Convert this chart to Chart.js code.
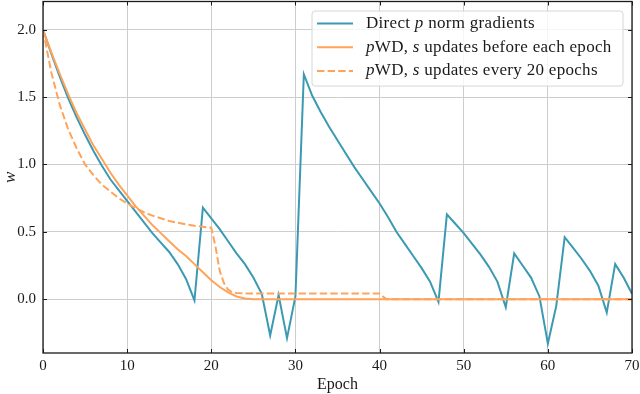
<!DOCTYPE html>
<html>
<head>
<meta charset="utf-8">
<script src="https://cdn.jsdelivr.net/npm/chart.js@4.4.1/dist/chart.umd.min.js"></script>
<style>
  html, body { margin: 0; padding: 0; background: #fff; }
</style>
</head>
<body>
<canvas id="chart" width="640" height="394"></canvas>
<script>
// epochs for the per-epoch series
const epochs = [0, 1, 2, 3, 4, 5, 6, 7, 8, 9, 10, 11, 12, 13, 14, 15, 16, 17, 18, 19,
  20, 21, 22, 23, 24, 25, 26, 27, 28, 29, 30, 31, 32, 33, 34, 35, 36, 37, 38, 39,
  40, 41, 42, 43, 44, 45, 46, 47, 48, 49, 50, 51, 52, 53, 54, 55, 56, 57, 58, 59,
  60, 61, 62, 63, 64, 65, 66, 67, 68, 69, 70];

// Direct p norm gradients
const directW = [2.00, 1.82, 1.65, 1.49, 1.35, 1.22, 1.10, 0.99, 0.89, 0.81,
  0.73, 0.65, 0.57, 0.49, 0.42, 0.35, 0.26, 0.15, -0.01, 0.68,
  0.60, 0.52, 0.43, 0.34, 0.26, 0.16, 0.04, -0.27, 0.03, -0.29,
  0.02, 1.67, 1.51, 1.39, 1.28, 1.18, 1.08, 0.98, 0.89, 0.80,
  0.71, 0.61, 0.50, 0.41, 0.32, 0.23, 0.13, -0.02, 0.63, 0.56,
  0.49, 0.41, 0.33, 0.24, 0.13, -0.06, 0.34, 0.25, 0.16, 0.02,
  -0.33, -0.05, 0.46, 0.38, 0.30, 0.21, 0.10, -0.10, 0.26, 0.16,
  0.04];

// pWD, s updates before each epoch
const pwdBefore = [2.00, 1.83, 1.67, 1.52, 1.38, 1.26, 1.14, 1.04, 0.94, 0.85,
  0.77, 0.69, 0.62, 0.55, 0.49, 0.43, 0.37, 0.32, 0.26, 0.20,
  0.14, 0.09, 0.05, 0.02, 0.005, 0, 0, 0, 0, 0,
  0, 0, 0, 0, 0, 0, 0, 0, 0, 0,
  0, 0, 0, 0, 0, 0, 0, 0, 0, 0,
  0, 0, 0, 0, 0, 0, 0, 0, 0, 0,
  0, 0, 0, 0, 0, 0, 0, 0, 0, 0,
  0];

// pWD, s updates every 20 epochs (sampled finer around the jumps)
const pwdEveryEpochs = [0, 1, 2, 3, 4, 5, 6, 7, 8, 9, 10, 11, 12, 13, 14, 15, 16, 17, 18, 19,
  20, 20.5, 21, 21.5, 22, 22.5, 23, 24, 30, 40, 40.4, 40.8, 50, 60, 70];
const pwdEvery = [2.00, 1.68, 1.44, 1.26, 1.12, 1.00, 0.92, 0.85, 0.80, 0.75,
  0.71, 0.675, 0.645, 0.62, 0.60, 0.58, 0.567, 0.555, 0.545, 0.537,
  0.53, 0.39, 0.21, 0.12, 0.07, 0.05, 0.045, 0.042, 0.042, 0.042,
  0.02, 0, 0, 0, 0];

const xTicks = [0, 10, 20, 30, 40, 50, 60, 70];
const yTicks = [0, 0.5, 1.0, 1.5, 2.0];

const BLUE = '#3b9ab2';
const ORANGE = '#ffa35a';
const FONT = "'Liberation Serif', 'DejaVu Serif', serif";

const toPoints = (xs, ys) => xs.map((x, i) => ({ x, y: ys[i] }));

// legend rows: [text, italic]
const legendRows = [
  { color: BLUE, dash: [], parts: [['Direct ', false], ['p', true], [' norm gradients', false]] },
  { color: ORANGE, dash: [], parts: [['p', true], ['WD, ', false], ['s', true], [' updates before each epoch', false]] },
  { color: ORANGE, dash: [7.4, 3.2], parts: [['p', true], ['WD, ', false], ['s', true], [' updates every 20 epochs', false]] },
];

const frame = {
  id: 'frame',
  afterDatasetsDraw(chart) {
    const { ctx, chartArea: a, scales: { x, y } } = chart;
    ctx.save();
    ctx.strokeStyle = '#1a1a1a';
    ctx.lineWidth = 1;
    const seg = (x1, y1, x2, y2) => { ctx.beginPath(); ctx.moveTo(x1, y1); ctx.lineTo(x2, y2); ctx.stroke(); };
    x.ticks.forEach(t => {
      const px = Math.round(x.getPixelForValue(t.value)) + 0.5;
      seg(px, a.bottom, px, a.bottom - 4);
      seg(px, a.top, px, a.top + 4);
    });
    y.ticks.forEach(t => {
      const py = Math.round(y.getPixelForValue(t.value)) + 0.5;
      seg(a.left, py, a.left + 4, py);
      seg(a.right, py, a.right - 4, py);
    });
    ctx.lineWidth = 1.3;
    ctx.strokeRect(a.left, a.top, a.right - a.left, a.bottom - a.top);
    ctx.restore();
  }
};

const legendBox = {
  id: 'legendBox',
  afterDraw(chart) {
    const { ctx, chartArea: a } = chart;
    const w = 311, h = 75;
    const x0 = a.right - 9 - w, y0 = a.top + 9.5;
    ctx.save();
    ctx.beginPath();
    ctx.roundRect(x0, y0, w, h, 3);
    ctx.fillStyle = 'rgba(255,255,255,0.8)';
    ctx.fill();
    ctx.strokeStyle = '#d6d6d6';
    ctx.lineWidth = 1;
    ctx.stroke();
    legendRows.forEach((row, i) => {
      const ry = y0 + 12.5 + i * 23.7;
      ctx.beginPath();
      ctx.setLineDash(row.dash);
      ctx.strokeStyle = row.color;
      ctx.lineWidth = 2;
      ctx.moveTo(x0 + 5, ry);
      ctx.lineTo(x0 + 41, ry);
      ctx.stroke();
      ctx.setLineDash([]);
      let tx = x0 + 54;
      ctx.fillStyle = '#1a1a1a';
      ctx.textBaseline = 'middle';
      ctx.letterSpacing = '0.3px';
      row.parts.forEach(([txt, it]) => {
        ctx.font = (it ? 'italic ' : '') + '17px ' + FONT;
        ctx.fillText(txt, tx, ry);
        tx += ctx.measureText(txt).width;
      });
    });
    ctx.restore();
  }
};

new Chart(document.getElementById('chart'), {
  type: 'line',
  data: {
    datasets: [
      {
        label: 'Direct p norm gradients',
        data: toPoints(epochs, directW),
        borderColor: BLUE,
        borderWidth: 2,
        pointRadius: 0,
        tension: 0,
        order: 3
      },
      {
        label: 'pWD, s updates before each epoch',
        data: toPoints(epochs, pwdBefore),
        borderColor: ORANGE,
        borderWidth: 2,
        pointRadius: 0,
        tension: 0,
        order: 2
      },
      {
        label: 'pWD, s updates every 20 epochs',
        data: toPoints(pwdEveryEpochs, pwdEvery),
        borderColor: ORANGE,
        borderWidth: 2,
        borderDash: [7.4, 3.2],
        pointRadius: 0,
        tension: 0,
        order: 1
      }
    ]
  },
  options: {
    responsive: false,
    animation: false,
    devicePixelRatio: 1,
    layout: { padding: { top: 1.5, right: 8, left: 0, bottom: 0 } },
    plugins: { legend: { display: false }, tooltip: { enabled: false } },
    scales: {
      x: {
        type: 'linear',
        min: 0,
        max: 70,
        afterBuildTicks: s => { s.ticks = xTicks.map(v => ({ value: v })); },
        afterFit: s => { s.height = 41; s.paddingLeft = 0; s.paddingRight = 0; },
        border: { display: false },
        grid: { color: '#cdcdcd', lineWidth: 1, drawTicks: false },
        ticks: { color: '#1a1a1a', padding: 4, maxRotation: 0, autoSkip: false, font: { family: FONT, size: 15 } },
        title: { display: true, text: 'Epoch', color: '#1a1a1a', padding: 0, font: { family: FONT, size: 16 } }
      },
      y: {
        min: -0.4,
        max: 2.21,
        afterBuildTicks: s => { s.ticks = yTicks.map(v => ({ value: v })); },
        afterFit: s => { s.width = 43; s.paddingTop = 0; s.paddingBottom = 0; },
        border: { display: false },
        grid: { color: '#cdcdcd', lineWidth: 1, drawTicks: false },
        ticks: { color: '#1a1a1a', padding: 7, font: { family: FONT, size: 15 }, callback: v => v.toFixed(1) },
        title: { display: true, text: 'w', color: '#1a1a1a', padding: 0, font: { family: FONT, size: 17, style: 'italic' } }
      }
    }
  },
  plugins: [frame, legendBox]
});
</script>
</body>
</html>
